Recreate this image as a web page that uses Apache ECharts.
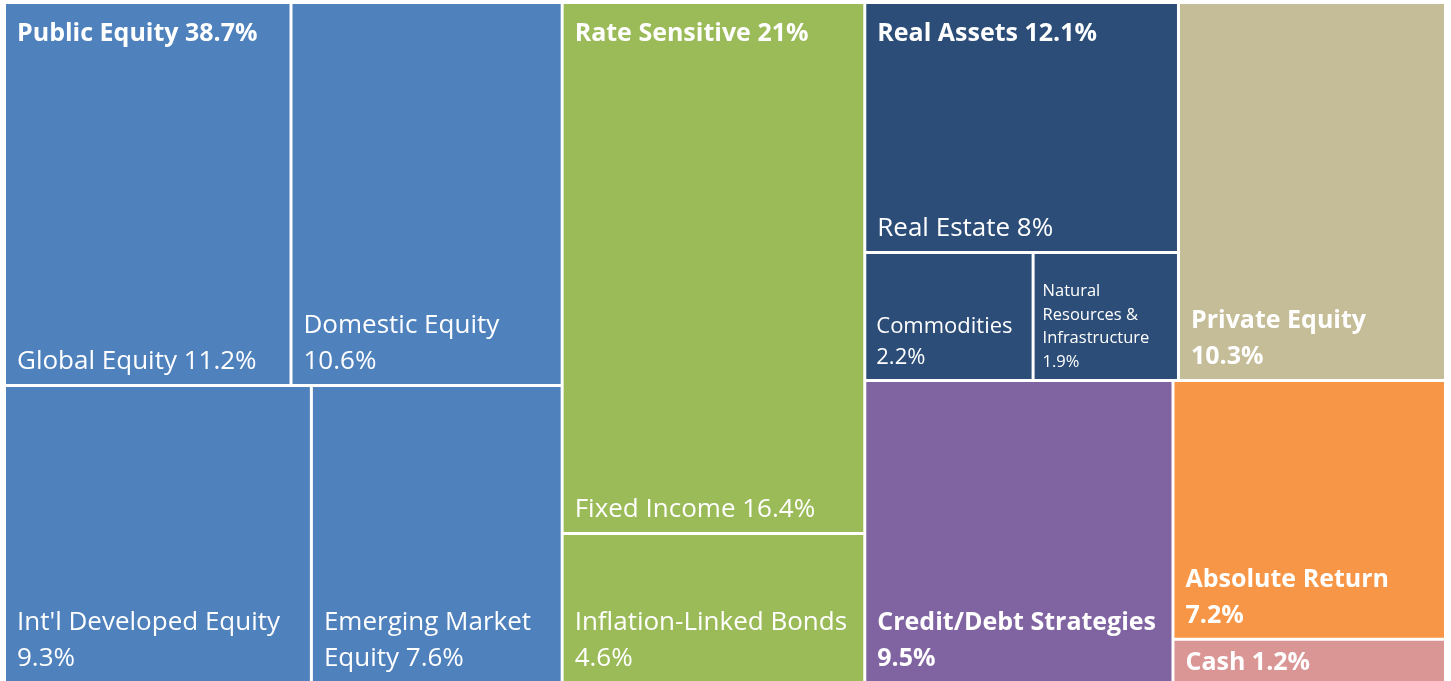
<!DOCTYPE html>
<html>
<head>
<meta charset="utf-8">
<script src="https://cdn.jsdelivr.net/npm/echarts@6/dist/echarts.min.js"></script>
<style>
  html, body { margin: 0; padding: 0; background: #ffffff; }
  #chart { width: 1451px; height: 681px; }
</style>
</head>
<body>
<div id="chart"></div>
<script>
// ---- data ----
const groupNames = ['Public Equity', 'Rate Sensitive', 'Real Assets', 'Private Equity', 'Credit/Debt Strategies', 'Absolute Return', 'Cash'];
const groupValues = [38.7, 21, 12.1, 10.3, 9.5, 7.2, 1.2];

const publicEquityNames = ['Global Equity', 'Domestic Equity', "Int'l Developed Equity", 'Emerging Market Equity'];
const publicEquityValues = [11.2, 10.6, 9.3, 7.6];

const rateSensitiveNames = ['Fixed Income', 'Inflation-Linked Bonds'];
const rateSensitiveValues = [16.4, 4.6];

const realAssetsNames = ['Real Estate', 'Commodities', 'Natural Resources & Infrastructure'];
const realAssetsValues = [8, 2.2, 1.9];

// ---- styles ----
const groupColors = ['#4F81BD', '#9BBB59', '#2C4D77', '#C4BD97', '#8064A2', '#F79646', '#D99694'];
const FONT = 'Open Sans';

// label line breaking, as in the reference
const displayNames = {
  'Emerging Market Equity': 'Emerging Market\nEquity',
  'Natural Resources & Infrastructure': 'Natural\nResources &\nInfrastructure'
};
const valueOnNewLine = ['Domestic Equity', "Int'l Developed Equity", 'Inflation-Linked Bonds', 'Commodities',
  'Natural Resources & Infrastructure', 'Private Equity', 'Credit/Debt Strategies', 'Absolute Return'];

// per-label text sizing for small cells
const labelOverrides = {
  'Commodities': { fontSize: 22, lineHeight: 31, padding: [0, 2, 6, 10] },
  'Natural Resources & Infrastructure': { fontSize: 16.5, lineHeight: 23.5, padding: [0, 2, 5, 8] },
  'Cash': { lineHeight: 30, padding: [0, 2, 3, 11] }
};

function labelText(name, value) {
  const disp = displayNames[name] || name;
  const sep = valueOnNewLine.indexOf(name) >= 0 ? '\n' : ' ';
  return disp + sep + value + '%';
}

const childrenOf = {
  'Public Equity': [publicEquityNames, publicEquityValues],
  'Rate Sensitive': [rateSensitiveNames, rateSensitiveValues],
  'Real Assets': [realAssetsNames, realAssetsValues]
};

function buildData(overlay) {
  return groupNames.map(function (g, gi) {
    const color = overlay ? 'rgba(0,0,0,0)' : groupColors[gi];
    const border = overlay ? 'rgba(0,0,0,0)' : '#ffffff';
    const node = { name: g, value: groupValues[gi], itemStyle: { color: color, borderColor: border } };
    if (!overlay && labelOverrides[g]) node.label = labelOverrides[g];
    const ch = childrenOf[g];
    if (ch) {
      node.children = ch[0].map(function (n, i) {
        const c = { name: n, value: ch[1][i], itemStyle: { color: color, borderColor: border } };
        if (overlay && i === 0) c.groupTitle = labelText(g, groupValues[gi]);
        if (!overlay && labelOverrides[n]) c.label = labelOverrides[n];
        return c;
      });
    }
    return node;
  });
}

const commonSeries = {
  type: 'treemap',
  left: 6, top: 4, right: 7, bottom: 0,
  squareRatio: 0.8,
  roam: false,
  nodeClick: false,
  breadcrumb: { show: false },
  animation: false
};

const chart = echarts.init(document.getElementById('chart'), null, { renderer: 'canvas' });
chart.setOption({
  backgroundColor: '#ffffff',
  animation: false,
  tooltip: { show: false },
  series: [
    Object.assign({}, commonSeries, {
      name: 'allocation',
      data: buildData(false),
      levels: [
        { itemStyle: { borderWidth: 0, gapWidth: 3, borderColor: '#ffffff' } },
        { itemStyle: { borderWidth: 0, gapWidth: 3, borderColor: '#ffffff' }, label: { fontWeight: 'bold', fontSize: 25 } },
        { itemStyle: { borderWidth: 0, gapWidth: 0, borderColor: '#ffffff' }, label: { fontWeight: 'normal', fontSize: 26 } }
      ],
      label: {
        show: true,
        position: 'insideBottomLeft',
        padding: [0, 2, 4, 11],
        color: '#ffffff',
        fontFamily: FONT,
        fontSize: 26,
        lineHeight: 36,
        overflow: 'none',
        formatter: function (p) { return labelText(p.name, p.value); }
      }
    }),
    Object.assign({}, commonSeries, {
      name: 'groupTitles',
      silent: true,
      z: 5,
      data: buildData(true),
      levels: [
        { itemStyle: { borderWidth: 0, gapWidth: 3, borderColor: 'rgba(0,0,0,0)' } },
        { itemStyle: { borderWidth: 0, gapWidth: 3, borderColor: 'rgba(0,0,0,0)' } },
        { itemStyle: { borderWidth: 0, gapWidth: 0, borderColor: 'rgba(0,0,0,0)' } }
      ],
      label: {
        show: true,
        position: 'insideTopLeft',
        padding: [12, 0, 0, 11],
        color: '#ffffff',
        fontFamily: FONT,
        fontSize: 25,
        fontWeight: 'bold',
        lineHeight: 36,
        overflow: 'none',
        formatter: function (p) { return (p.data && p.data.groupTitle) || ''; }
      }
    })
  ]
});
</script>
</body>
</html>
